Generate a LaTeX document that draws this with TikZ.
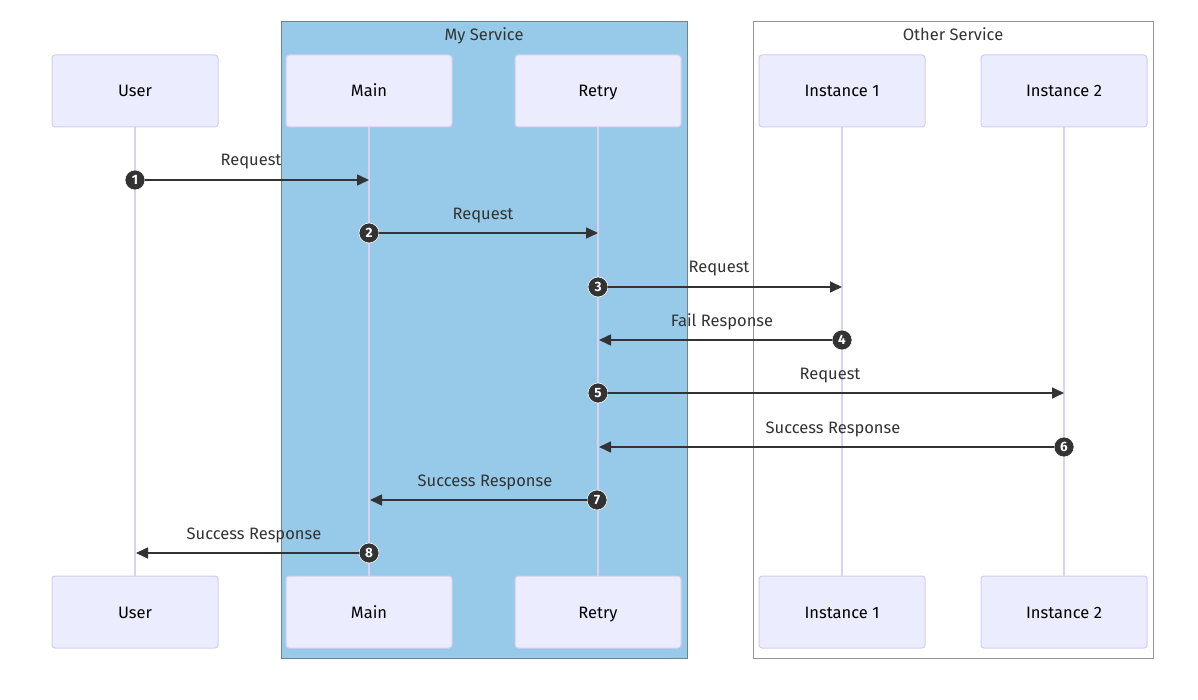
\documentclass[tikz,border=0pt]{standalone}
\usepackage{fontspec}
\setmainfont{Fira Sans}
\usetikzlibrary{arrows.meta}
\definecolor{actorfill}{HTML}{ECECFF}
\definecolor{actorline}{HTML}{D5CBF0}
\definecolor{lifeline}{HTML}{D9D0F2}
\definecolor{svcblue}{RGB}{150,202,232}
\definecolor{svcborderA}{RGB}{115,130,140}
\definecolor{svcborderB}{RGB}{150,150,150}
\definecolor{ink}{HTML}{333333}
\tikzset{
  actor/.style={draw=actorline, fill=actorfill, line width=1pt, rounded corners=3pt,
    minimum width=166pt, minimum height=72pt, inner sep=0pt,
    text height=14pt, text depth=2pt,
    font=\fontsize{16.5}{19}\selectfont, text=black},
  life/.style={draw=lifeline, line width=2pt},
  svcbox/.style={line width=1pt},
  svctitle/.style={font=\fontsize{16.5}{19}\selectfont, text=ink, anchor=center,
    text height=14pt, text depth=2pt},
  numdot/.style={circle, fill=ink, draw=white, line width=0.6pt, minimum size=20pt, inner sep=0pt,
    text=white, font=\fontsize{13.5}{14}\bfseries\selectfont},
  msg/.style={draw=ink, line width=1.6pt, -{Triangle[length=12pt,width=11pt]}},
  msglabel/.style={font=\fontsize{16.5}{19}\selectfont, text=ink, anchor=center,
    text height=14pt, text depth=2pt}
}
\begin{document}
\begin{tikzpicture}[x=1pt,y=-1pt]
\useasboundingbox (0,0) rectangle (1198,700);
% service boxes
\draw[svcbox, draw=svcborderA, fill=svcblue] (281,22) rectangle (687,658);
\draw[svcbox, draw=svcborderB, fill=white] (753,22) rectangle (1153,658);
\node[svctitle] (t1) at (484,35) {My Service};
\node[svctitle] (t2) at (953,35) {Other Service};
% actors top
\node[actor] (uT) at (135,91) {User};
\node[actor] (mT) at (369,91) {Main};
\node[actor] (rT) at (598,91) {Retry};
\node[actor] (aT) at (842,91) {Instance 1};
\node[actor] (bT) at (1064,91) {Instance 2};
% actors bottom
\node[actor] (uB) at (135,612) {User};
\node[actor] (mB) at (369,612) {Main};
\node[actor] (rB) at (598,612) {Retry};
\node[actor] (aB) at (842,612) {Instance 1};
\node[actor] (bB) at (1064,612) {Instance 2};
% lifelines
\draw[life] (uT.south) -- (uB.north);
\draw[life] (mT.south) -- (mB.north);
\draw[life] (rT.south) -- (rB.north);
\draw[life] (aT.south) -- (aB.north);
\draw[life] (bT.south) -- (bB.north);
% message end points
\coordinate (e1) at (369,180);
\coordinate (e2) at (598,233);
\coordinate (e3) at (842,287);
\coordinate (e4) at (599,340);
\coordinate (e5) at (1064,393);
\coordinate (e6) at (599,447);
\coordinate (e7) at (370,500);
\coordinate (e8) at (136,553);
% number dots
\node[numdot] (n1) at (135,180) {1};
\node[numdot] (n2) at (369,233) {2};
\node[numdot] (n3) at (598,287) {3};
\node[numdot] (n4) at (842,340) {4};
\node[numdot] (n5) at (598,393) {5};
\node[numdot] (n6) at (1064,447) {6};
\node[numdot] (n7) at (597,500) {7};
\node[numdot] (n8) at (369,553) {8};
% messages
\draw[msg] (n1) -- (e1);
\draw[msg] (n2) -- (e2);
\draw[msg] (n3) -- (e3);
\draw[msg] (n4) -- (e4);
\draw[msg] (n5) -- (e5);
\draw[msg] (n6) -- (e6);
\draw[msg] (n7) -- (e7);
\draw[msg] (n8) -- (e8);
% labels
\node[msglabel] (l1) at (251,160) {Request};
\node[msglabel] (l2) at (483,214) {Request};
\node[msglabel] (l3) at (719,267) {Request};
\node[msglabel] (l4) at (722,320) {Fail Response};
\node[msglabel] (l5) at (830,373) {Request};
\node[msglabel] (l6) at (833,427) {Success Response};
\node[msglabel] (l7) at (485,480) {Success Response};
\node[msglabel] (l8) at (254,533) {Success Response};
\end{tikzpicture}
\end{document}
